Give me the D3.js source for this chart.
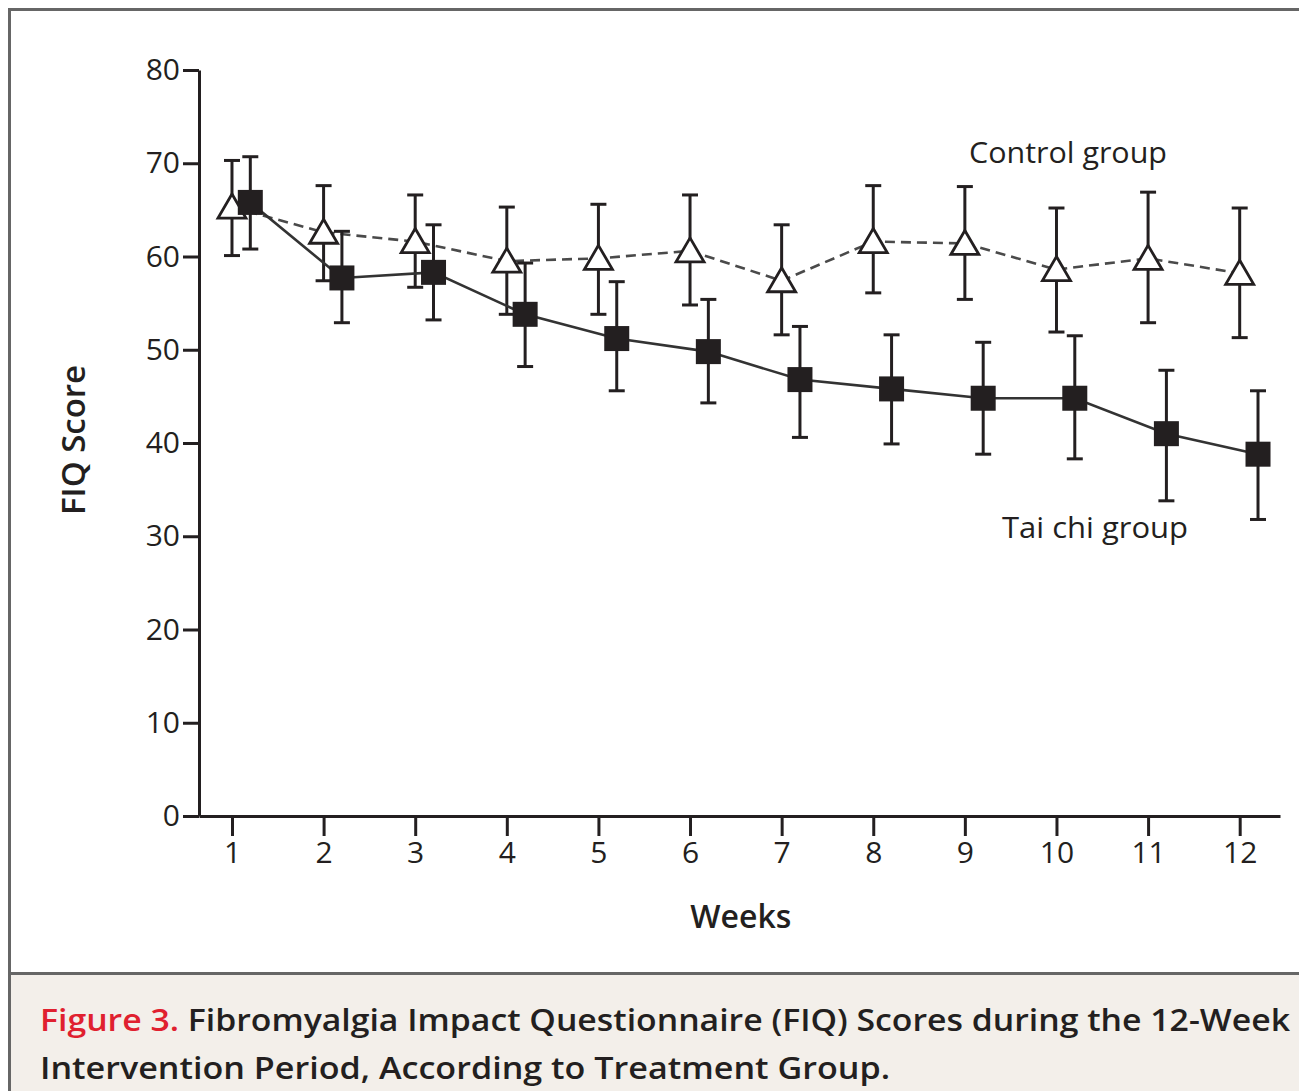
<!DOCTYPE html>
<html>
<head>
<meta charset="utf-8">
<script src="https://cdn.jsdelivr.net/npm/d3@7"></script>
<style>
  html, body { margin: 0; padding: 0; background: #fff; }
  svg { display: block; }
  text { font-family: "Open Sans", "Noto Sans", sans-serif; fill: #231f20; }
</style>
</head>
<body>
<div id="chart"></div>
<script>
// Weeks and y ticks
const weeks = [1, 2, 3, 4, 5, 6, 7, 8, 9, 10, 11, 12];
const yTicks = [0, 10, 20, 30, 40, 50, 60, 70, 80];

// Control group: mean and error bar limits
const controlMean = [65.3, 62.6, 61.6, 59.5, 59.8, 60.6, 57.4, 61.6, 61.4, 58.6, 59.8, 58.2];
const controlHigh = [70.3, 67.6, 66.6, 65.3, 65.6, 66.6, 63.4, 67.6, 67.5, 65.2, 66.9, 65.2];
const controlLow  = [60.1, 57.4, 56.7, 53.8, 53.8, 54.8, 51.6, 56.1, 55.4, 51.9, 52.9, 51.3];

// Tai chi group
const taiMean = [65.8, 57.7, 58.3, 53.8, 51.2, 49.8, 46.8, 45.8, 44.8, 44.8, 41.0, 38.8];
const taiHigh = [70.7, 62.7, 63.4, 59.3, 57.3, 55.4, 52.5, 51.6, 50.8, 51.5, 47.8, 45.6];
const taiLow  = [60.8, 52.9, 53.2, 48.2, 45.6, 44.3, 40.6, 39.9, 38.8, 38.3, 33.8, 31.8];

const W = 1299, H = 1091;
const ink = '#231f20';
const taiShift = 0.2; // tai chi markers sit slightly right of each week

const svg = d3.select('#chart').append('svg')
  .attr('width', W).attr('height', H);

// frame + caption panel
svg.append('rect')
  .attr('x', 9.5).attr('y', 973.5).attr('width', W).attr('height', 130)
  .attr('fill', '#f3efea');
svg.append('rect')
  .attr('x', 9.5).attr('y', 9.5).attr('width', W + 20).attr('height', 1100)
  .attr('fill', 'none').attr('stroke', '#666').attr('stroke-width', 3);
svg.append('line')
  .attr('x1', 9.5).attr('x2', W).attr('y1', 973.5).attr('y2', 973.5)
  .attr('stroke', '#666').attr('stroke-width', 3);

const x = d3.scaleLinear().domain([0.64, 12.44]).range([199, 1280]);
const y = d3.scaleLinear().domain([0, 80]).range([816, 70]);

// axes
const yAxis = svg.append('g')
  .attr('transform', `translate(${x.range()[0]},0)`)
  .call(d3.axisLeft(y).tickValues(yTicks).tickSize(16).tickSizeOuter(0).tickPadding(3));
const xAxis = svg.append('g')
  .attr('transform', `translate(0,${y.range()[0]})`)
  .call(d3.axisBottom(x).tickValues(weeks).tickFormat(d3.format('d')).tickSize(20).tickSizeOuter(0).tickPadding(6));

[yAxis, xAxis].forEach(ax => {
  ax.select('.domain').attr('stroke', ink).attr('stroke-width', 3);
  ax.selectAll('.tick line').attr('stroke', ink).attr('stroke-width', 3);
  ax.selectAll('.tick text')
    .attr('fill', ink)
    .style('font-family', '"Open Sans", sans-serif')
    .style('font-size', '30px');
});

// axis titles
svg.append('text')
  .attr('transform', `translate(85,${(y(0) + y(80)) / 2 - 3}) rotate(-90)`)
  .attr('text-anchor', 'middle')
  .attr('textLength', 150).attr('lengthAdjust', 'spacingAndGlyphs')
  .style('font-size', '32px').style('font-weight', 600)
  .text('FIQ Score');
svg.append('text')
  .attr('x', (x(1) + x(12)) / 2 + 5).attr('y', 928)
  .attr('text-anchor', 'middle')
  .style('font-size', '32px').style('font-weight', 600)
  .text('Weeks');

// build a series
function series(means, lows, highs, shift) {
  return weeks.map((w, i) => ({ w: w + shift, m: means[i], lo: lows[i], hi: highs[i] }));
}
const control = series(controlMean, controlLow, controlHigh, 0);
const tai = series(taiMean, taiLow, taiHigh, taiShift);

const line = d3.line().x(d => x(d.w)).y(d => y(d.m));
const capW = 8;

function errorBars(data) {
  const g = svg.append('g').attr('stroke', ink).attr('stroke-width', 3);
  g.selectAll('line.bar').data(data).join('line').attr('class', 'bar')
    .attr('x1', d => x(d.w)).attr('x2', d => x(d.w))
    .attr('y1', d => y(d.hi)).attr('y2', d => y(d.lo));
  g.selectAll('line.capHi').data(data).join('line').attr('class', 'capHi')
    .attr('x1', d => x(d.w) - capW).attr('x2', d => x(d.w) + capW)
    .attr('y1', d => y(d.hi)).attr('y2', d => y(d.hi));
  g.selectAll('line.capLo').data(data).join('line').attr('class', 'capLo')
    .attr('x1', d => x(d.w) - capW).attr('x2', d => x(d.w) + capW)
    .attr('y1', d => y(d.lo)).attr('y2', d => y(d.lo));
}

// control group: dashed line, open triangles
svg.append('path').datum(control)
  .attr('d', line).attr('fill', 'none')
  .attr('stroke', '#4a4a4a').attr('stroke-width', 2.6).attr('stroke-dasharray', '10,6');
errorBars(control);
const tri = 13;
svg.append('g').selectAll('path').data(control).join('path')
  .attr('d', d => {
    const cx = x(d.w), cy = y(d.m);
    return `M${cx},${cy - tri}L${cx + tri + 1},${cy + 11}L${cx - tri - 1},${cy + 11}Z`;
  })
  .attr('fill', '#fff').attr('stroke', ink).attr('stroke-width', 2.8)
  .attr('stroke-linejoin', 'miter');

// tai chi group: solid line, filled squares
svg.append('path').datum(tai)
  .attr('d', line).attr('fill', 'none')
  .attr('stroke', '#333').attr('stroke-width', 2.6);
errorBars(tai);
const sq = 25;
svg.append('g').selectAll('rect').data(tai).join('rect')
  .attr('x', d => x(d.w) - sq / 2).attr('y', d => y(d.m) - sq / 2)
  .attr('width', sq).attr('height', sq)
  .attr('fill', ink);

// group labels
svg.append('text').attr('x', 969).attr('y', 163)
  .attr('textLength', 198).attr('lengthAdjust', 'spacingAndGlyphs')
  .style('font-size', '30px').text('Control group');
svg.append('text').attr('x', 1002).attr('y', 538)
  .attr('textLength', 186).attr('lengthAdjust', 'spacingAndGlyphs')
  .style('font-size', '30px').text('Tai chi group');

// caption
const cap1 = svg.append('text').attr('x', 40).attr('y', 1031)
  .attr('textLength', 1250).attr('lengthAdjust', 'spacingAndGlyphs')
  .style('font-size', '31px').style('font-weight', 600);
cap1.append('tspan').attr('fill', '#e0202f').style('fill', '#e0202f').text('Figure 3.');
cap1.append('tspan').text(' Fibromyalgia Impact Questionnaire (FIQ) Scores during the 12-Week');
svg.append('text').attr('x', 40).attr('y', 1079)
  .attr('textLength', 850).attr('lengthAdjust', 'spacingAndGlyphs')
  .style('font-size', '31px').style('font-weight', 600)
  .text('Intervention Period, According to Treatment Group.');
</script>
</body>
</html>
